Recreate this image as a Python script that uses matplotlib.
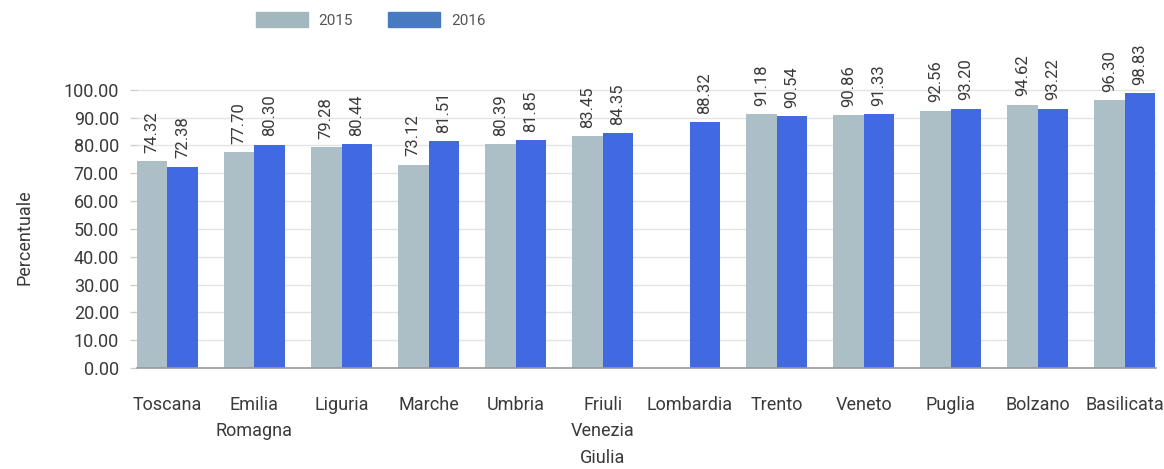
import numpy as np
import matplotlib.pyplot as plt
from matplotlib.patches import Patch

plt.rcParams['font.family'] = ['Roboto', 'DejaVu Sans']

regioni = ['Toscana', 'Emilia\nRomagna', 'Liguria', 'Marche', 'Umbria',
           'Friuli\nVenezia\nGiulia', 'Lombardia', 'Trento', 'Veneto',
           'Puglia', 'Bolzano', 'Basilicata']
val_2015 = [74.32, 77.70, 79.28, 73.12, 80.39, 83.45, np.nan, 91.18,
            90.86, 92.56, 94.62, 96.30]
val_2016 = [72.38, 80.30, 80.44, 81.51, 81.85, 84.35, 88.32, 90.54,
            91.33, 93.20, 93.22, 98.83]
yticks = np.arange(0, 101, 10)

col15 = '#acbfc6'
col16 = '#4169e1'
txt = '#3a3a3a'

fig = plt.figure(figsize=(11.64, 4.69), dpi=100)
ax = fig.add_axes([0.1177, 0.2154, 0.8755, 0.682])

x = np.arange(len(regioni))
w = 0.35
b15 = ax.bar(x - w / 2, val_2015, w, color=col15, zorder=2)
b16 = ax.bar(x + w / 2, val_2016, w, color=col16, zorder=2)

for bars, vals in ((b15, val_2015), (b16, val_2016)):
    for rect, v in zip(bars, vals):
        if np.isnan(v):
            continue
        ax.annotate(f'{v:.2f}', (rect.get_x() + rect.get_width() / 2, v),
                    xytext=(0, 6), textcoords='offset points',
                    rotation=90, ha='center', va='bottom',
                    fontsize=12, color=txt)

ax.set_xlim(-0.35, 11.36)
ax.set_ylim(0, 115)
ax.set_yticks(yticks)
ax.set_yticklabels([f'{t:.2f}' for t in yticks])
ax.set_xticks(x)
ax.set_xticklabels(regioni, linespacing=1.6)
ax.tick_params(axis='x', length=0, pad=20, labelsize=13, labelcolor=txt)
ax.tick_params(axis='y', length=5, width=1, color='#cccccc', pad=8,
               labelsize=13, labelcolor=txt)
ax.grid(axis='y', color='#e4e4e4', linewidth=1, zorder=0)
for s in ('top', 'right', 'left'):
    ax.spines[s].set_visible(False)
ax.spines['bottom'].set_color('#999999')
ax.spines['bottom'].set_linewidth(1.2)
ax.spines['bottom'].set_zorder(3)

ax.set_ylabel('Percentuale', fontsize=13, color=txt)
ax.yaxis.set_label_coords(-0.102, 0.41)

handles = [Patch(color='#a2b8be'), Patch(color='#477ac0')]
fig.legend(handles, ['2015', '2016'], loc='upper left',
           bbox_to_anchor=(0.208, 1.003), ncol=2, frameon=False,
           fontsize=11, labelcolor='#555555', handlelength=3.4,
           handleheight=1.1, handletextpad=0.7, columnspacing=2.3)

fig.savefig('out.png', dpi=100)
